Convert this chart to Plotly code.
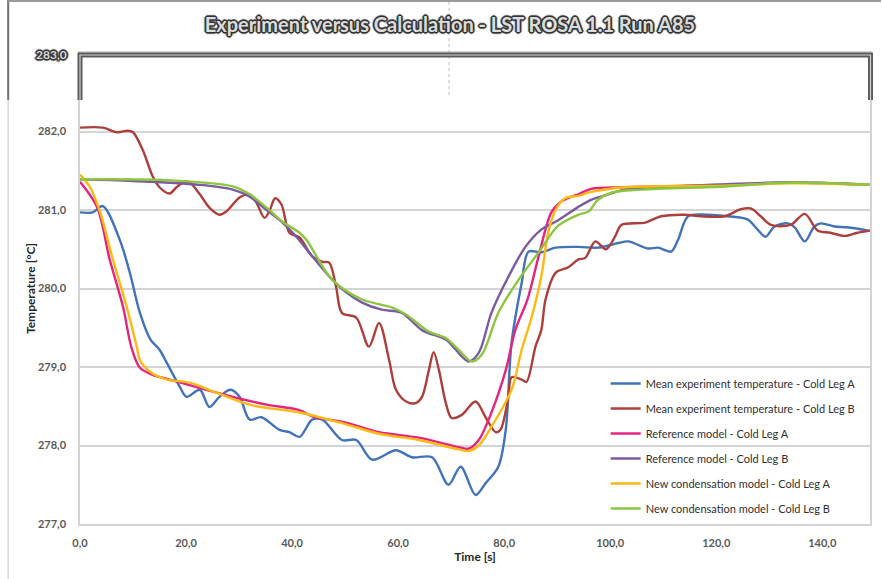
import plotly.graph_objects as go

# ---------------- data ----------------
t_exp_a = [0, 2.4, 4.3, 7.5, 9.4, 11.3, 13.3, 15.0, 16.4, 18.8, 20.1, 22.6, 24.4, 26.3, 28.4, 30.1, 32.0, 34.2,
           37.6, 39.5, 41.4, 43.8, 45.7, 49.4, 52.1, 55.1, 59.6, 62.6, 66.4, 69.5, 71.8, 74.6, 76.5, 78.9, 80.3,
           81.4, 83.3, 84.6, 87.0, 89.7, 94.0, 97.7, 101.5, 103.4, 107.1, 109.0, 111.5, 112.8, 114.7, 118.4,
           122.2, 125.9, 127.8, 129.3, 131.0, 133.5, 134.8, 136.7, 138.5, 139.7, 142.3, 144.7, 148.5]
v_exp_a = [280.97, 280.97, 281.05, 280.62, 280.20, 279.69, 279.35, 279.22, 279.05, 278.75, 278.62, 278.71, 278.49,
           278.62, 278.71, 278.62, 278.33, 278.36, 278.20, 278.17, 278.11, 278.33, 278.33, 278.07, 278.07, 277.82,
           277.94, 277.85, 277.85, 277.50, 277.73, 277.37, 277.52, 277.73, 278.20, 279.31, 280.07, 280.47, 280.46,
           280.52, 280.53, 280.52, 280.58, 280.60, 280.51, 280.52, 280.47, 280.62, 280.92, 280.94, 280.92, 280.88,
           280.75, 280.66, 280.79, 280.83, 280.78, 280.60, 280.79, 280.83, 280.79, 280.78, 280.74]

t_exp_b = [0, 4.3, 7.0, 9.0, 10.0, 11.8, 13.7, 15.0, 16.9, 18.2, 19.7, 20.7, 22.6, 24.4, 26.3, 27.6, 30.1, 32.0,
           33.3, 34.8, 35.7, 36.8, 38.0, 39.5, 41.4, 43.8, 45.7, 47.0, 48.3, 49.4, 52.1, 54.5, 56.4, 58.3, 59.6,
           61.5, 63.3, 64.5, 65.8, 66.7, 67.7, 69.0, 70.1, 72.0, 74.6, 76.5, 78.4, 79.3, 80.8, 81.4, 83.3, 84.2,
           85.9, 87.0, 87.8, 89.7, 92.1, 94.0, 95.3, 97.2, 99.2, 100.9, 102.1, 106.6, 109.6, 114.1, 117.1, 121.6,
           124.6, 126.5, 128.4, 130.3, 134.0, 136.7, 139.1, 141.5, 144.2, 146.6, 149.0]
v_exp_b = [282.05, 282.05, 281.99, 282.01, 281.99, 281.77, 281.43, 281.29, 281.21, 281.29, 281.36, 281.35, 281.20,
           281.03, 280.94, 280.98, 281.16, 281.20, 281.09, 280.90, 280.98, 281.15, 281.07, 280.71, 280.65, 280.41,
           280.34, 280.33, 280.02, 279.69, 279.63, 279.26, 279.56, 279.09, 278.71, 278.56, 278.54, 278.62, 278.96,
           279.19, 278.96, 278.54, 278.35, 278.39, 278.56, 278.36, 278.17, 278.20, 278.62, 278.87, 278.84, 278.81,
           279.26, 279.47, 279.86, 280.20, 280.27, 280.37, 280.39, 280.60, 280.50, 280.66, 280.81, 280.84, 280.92,
           280.94, 280.92, 280.92, 281.01, 281.02, 280.92, 280.81, 280.81, 280.95, 280.74, 280.71, 280.67, 280.71,
           280.74]

t_ref_a = [0, 3.2, 5.6, 8.1, 9.7, 11.3, 13.7, 16.9, 22.6, 28.8, 35.2, 41.4, 43.8, 50.2, 56.4, 63.9, 71.4, 73.3,
           75.2, 77.6, 80.3, 82.1, 84.4, 86.5, 88.9, 90.8, 92.7, 94.0, 96.4, 102.8, 121.6, 134.0, 149.0]
v_ref_a = [281.36, 281.04, 280.37, 279.77, 279.25, 278.99, 278.90, 278.84, 278.73, 278.62, 278.52, 278.45, 278.37,
           278.29, 278.17, 278.10, 277.98, 277.96, 278.07, 278.42, 278.96, 279.47, 279.86, 280.41, 280.97, 281.11,
           281.17, 281.20, 281.27, 281.29, 281.32, 281.35, 281.32]

t_ref_b = [0, 10.0, 22.6, 28.8, 32.0, 35.2, 38.2, 40.8, 43.8, 47.6, 50.2, 53.2, 56.9, 60.7, 64.5, 69.0, 70.1, 73.3,
           75.2, 77.6, 80.8, 84.0, 87.0, 90.2, 94.0, 96.4, 99.6, 102.8, 115.2, 134.0, 149.0]
v_ref_b = [281.39, 281.37, 281.32, 281.26, 281.17, 281.00, 280.84, 280.66, 280.41, 280.11, 279.95, 279.82, 279.73,
           279.69, 279.47, 279.35, 279.28, 279.07, 279.18, 279.69, 280.15, 280.53, 280.75, 280.87, 281.04, 281.13,
           281.20, 281.26, 281.31, 281.35, 281.32]

t_new_a = [0, 1.9, 3.8, 6.2, 8.8, 10.7, 11.3, 13.2, 16.4, 20.7, 25.8, 32.0, 35.2, 41.4, 50.2, 56.4, 63.9, 71.4,
           73.3, 75.2, 77.6, 81.4, 83.3, 85.2, 87.0, 88.3, 89.7, 91.5, 94.0, 96.4, 102.8, 121.6, 134.0, 149.0]
v_new_a = [281.45, 281.29, 280.97, 280.37, 279.77, 279.26, 279.09, 278.94, 278.84, 278.80, 278.67, 278.52, 278.48,
           278.42, 278.27, 278.15, 278.07, 277.95, 277.93, 278.00, 278.24, 278.71, 279.22, 279.64, 280.15, 280.71,
           281.00, 281.15, 281.18, 281.23, 281.29, 281.31, 281.34, 281.32]

t_new_b = [0, 16.4, 28.8, 32.0, 35.2, 38.2, 41.4, 42.7, 47.6, 53.2, 58.8, 61.5, 65.8, 69.0, 71.4, 73.9, 75.8, 78.9,
           82.7, 86.5, 90.2, 94.0, 95.9, 97.7, 100.2, 105.8, 121.6, 134.0, 149.0]
v_new_b = [281.39, 281.38, 281.30, 281.20, 281.03, 280.85, 280.71, 280.62, 280.11, 279.86, 279.76, 279.67, 279.45,
           279.37, 279.22, 279.07, 279.16, 279.69, 280.11, 280.46, 280.80, 280.94, 280.98, 281.13, 281.22, 281.26,
           281.30, 281.35, 281.32]

series_names = ["Mean experiment temperature - Cold Leg A",
                "Mean experiment temperature - Cold Leg B",
                "Reference model - Cold Leg A",
                "Reference model - Cold Leg B",
                "New condensation model - Cold Leg A",
                "New condensation model - Cold Leg B"]
series_t = [t_exp_a, t_exp_b, t_ref_a, t_ref_b, t_new_a, t_new_b]
series_v = [v_exp_a, v_exp_b, v_ref_a, v_ref_b, v_new_a, v_new_b]
series_colors = ["#4272b8", "#ac3f3b", "#e3257f", "#7a5aa0", "#fdb913", "#8cc63f"]

x_tick_vals = [0, 20, 40, 60, 80, 100, 120, 140]
x_tick_text = ["0,0", "20,0", "40,0", "60,0", "80,0", "100,0", "120,0", "140,0"]
y_tick_vals = [277, 278, 279, 280, 281, 282, 283]
y_tick_text = ["277,0", "278,0", "279,0", "280,0", "281,0", "282,0", "283,0"]

title_text = "Experiment versus Calculation - LST ROSA 1.1 Run A85"
x_title = "Time [s]"
y_title = "Temperature [°C]"

# ---------------- figure ----------------
FONT = "Lato"
W, H = 883, 579
ML, MR, MT, MB = 80, 11, 53, 55
PW, PH = W - ML - MR, H - MT - MB


def px_x(px):
    return (px - ML) / PW


def px_y(py):
    return (H - MB - py) / PH


outline = ("1px 0 0 #333, -1px 0 0 #333, 0 1px 0 #333, 0 -1px 0 #333, "
           "1px 1px 0 #333, -1px -1px 0 #333, 1px -1px 0 #333, -1px 1px 0 #333, "
           "2px 0 1px #555, -2px 0 1px #555, 0 2px 1px #555, 0 -2px 1px #555")

fig = go.Figure()
for name, t, v, c in zip(series_names, series_t, series_v, series_colors):
    fig.add_trace(go.Scatter(x=t, y=v, name=name, mode="lines",
                             line=dict(color=c, width=2.4, shape="spline", smoothing=0.9),
                             legendgroup=name))

fig.update_layout(
    width=W, height=H,
    margin=dict(l=ML, r=MR, t=MT, b=MB),
    paper_bgcolor="white", plot_bgcolor="white",
    font=dict(family=FONT, size=11, color="#404040"),
    title=dict(text=title_text, x=450 / W, xanchor="center", y=1 - 25 / H, yanchor="middle",
               font=dict(family=FONT, size=20, weight="bold", color="#dcdcdc", shadow=outline)),
    showlegend=True,
    legend=dict(x=px_x(607), y=px_y(369), xanchor="left", yanchor="top",
                bgcolor="rgba(0,0,0,0)", borderwidth=0, traceorder="grouped", tracegroupgap=6,
                font=dict(family=FONT, size=11, color="#303030"), itemwidth=30),
    xaxis=dict(range=[0, 149], tickvals=x_tick_vals, ticktext=x_tick_text, showgrid=False,
               zeroline=False, showline=True, linecolor="#d4d4d4", linewidth=1.5, mirror=True,
               ticks="", ticklabelstandoff=8,
               tickfont=dict(family=FONT, size=11, weight="bold", color="#595959"),
               title=dict(text=x_title, standoff=5,
                          font=dict(family=FONT, size=12, weight="bold", color="#262626"))),
    yaxis=dict(range=[277, 283], tickvals=y_tick_vals[:-1], ticktext=y_tick_text[:-1], showgrid=True,
               gridcolor="#d4d4d4", gridwidth=1.5, zeroline=False, showline=True, linecolor="#d4d4d4",
               linewidth=1.5, mirror=True, ticks="", ticklabelstandoff=10,
               tickfont=dict(family=FONT, size=11, weight="bold", color="#595959"),
               title=dict(text=y_title, standoff=0,
                          font=dict(family=FONT, size=12, weight="bold", color="#262626"))),
)

# top "283,0" label (outlined like the title)
fig.add_annotation(x=px_x(69), y=y_tick_vals[-1], xref="paper", yref="y", text=y_tick_text[-1],
                   xanchor="right", yanchor="middle", showarrow=False, yshift=-1,
                   font=dict(family=FONT, size=12, weight="bold", color="#dcdcdc", shadow=outline))

shapes = []
# outer frame lines
shapes.append(dict(type="line", xref="paper", yref="paper", x0=px_x(8), x1=px_x(8), y0=px_y(0), y1=px_y(100),
                   line=dict(color="#707070", width=2)))
shapes.append(dict(type="line", xref="paper", yref="paper", x0=px_x(8), x1=px_x(8), y0=px_y(100), y1=px_y(579),
                   line=dict(color="#d8d8d8", width=1.5)))
shapes.append(dict(type="line", xref="paper", yref="paper", x0=px_x(8), x1=px_x(883), y0=px_y(1), y1=px_y(1),
                   line=dict(color="#9a9a9a", width=2)))
# dotted divider
shapes.append(dict(type="line", xref="paper", yref="paper", x0=px_x(450), x1=px_x(450), y0=px_y(2), y1=px_y(96),
                   line=dict(color="#bbbbbb", width=1, dash="dot")))
# header box (double line)
box_path = "M {l},{b} L {l},{t} L {r},{t} L {r},{b}".format(l=px_x(80), r=px_x(872.5), t=px_y(55), b=px_y(100))
shapes.append(dict(type="path", xref="paper", yref="paper", path=box_path, line=dict(color="#5a5a5a", width=5)))
shapes.append(dict(type="path", xref="paper", yref="paper", path=box_path, line=dict(color="#d0d0d0", width=1.2)))
fig.update_layout(shapes=shapes)

fig.write_html("out.html")
